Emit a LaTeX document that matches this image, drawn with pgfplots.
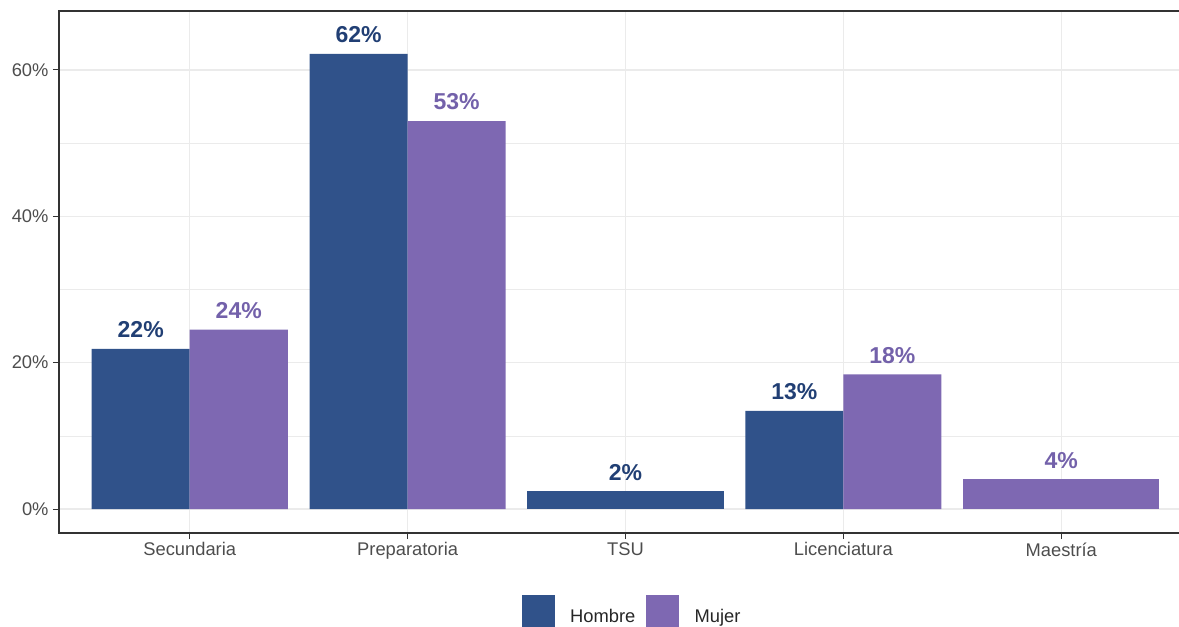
\documentclass[border=0pt]{standalone}
\usepackage{pgfplots}
\pgfplotsset{compat=1.18}
\usepackage{fontspec}
\setmainfont{Liberation Sans}
\definecolor{hbar}{HTML}{30528A}
\definecolor{hlab}{HTML}{213F74}
\definecolor{mbar}{HTML}{7E68B2}
\definecolor{mlab}{HTML}{7361AA}
\definecolor{gridc}{HTML}{EBEBEB}
\definecolor{txt}{HTML}{4D4D4D}
\definecolor{frame}{HTML}{333333}
\begin{document}
\begin{tikzpicture}
\useasboundingbox (0pt,0pt) rectangle (707.4pt,375.6pt);
\clip (0pt,0pt) rectangle (707.4pt,375.6pt);
\begin{axis}[
  at={(35.4pt,55.8pt)}, anchor=south west,
  scale only axis, width=679.8pt, height=313.2pt,
  xmin=0.4, xmax=5.6, ymin=-3.28, ymax=68.06,
  xtick={1,2,3,4,5},
  xticklabels={Secundaria,Preparatoria,TSU,Licenciatura,Maestría},
  ytick={0,20,40,60},
  yticklabels={0\%,20\%,40\%,60\%},
  minor ytick={10,30,50},
  xmajorgrids, ymajorgrids, yminorgrids,
  major grid style={draw=gridc, line width=0.7pt},
  minor grid style={draw=gridc, line width=0.35pt},
  minor tick length=0pt,
  tick align=outside, xtick pos=bottom, ytick pos=left,
  major tick length=3.6pt,
  tick style={draw=frame, line width=0.6pt},
  axis line style={draw=frame, line width=0.7pt},
  ticklabel style={font=\fontsize{11}{13}\selectfont, text=txt},
  xticklabel style={inner sep=1pt, yshift=-1pt},
  yticklabel style={inner sep=2.5pt},
  point meta=explicit symbolic,
  nodes near coords,
  every node near coord/.style={anchor=base, yshift=6.8pt, inner sep=0pt, font=\fontsize{13.8}{16}\selectfont\bfseries},
  legend columns=2,
  legend style={at={(0.5065,-0.151)}, anchor=center, draw=none, fill=none,
    font=\fontsize{11}{13}\selectfont, text=black!85,
    /tikz/every odd column/.append style={column sep=7.2pt},
    /tikz/every even column/.append style={column sep=4.6pt},
    cells={anchor=west}},
  legend image code/.code={\fill[#1] (0pt,-6.3pt) rectangle (19.8pt,13.5pt);},
]
\addplot[ybar, bar width=0.45, bar shift=0pt, fill=hbar, draw=none,
  every node near coord/.append style={text=hlab}]
  coordinates {(0.775,21.9) [22\%] (1.775,62.2) [62\%] (3.775,13.4) [13\%]};
\addlegendentry{Hombre}
\addplot[ybar, bar width=0.45, bar shift=0pt, fill=mbar, draw=none,
  every node near coord/.append style={text=mlab}]
  coordinates {(1.225,24.5) [24\%] (2.225,53.0) [53\%] (4.225,18.4) [18\%]};
\addlegendentry{Mujer}
\addplot[ybar, bar width=0.9, bar shift=0pt, fill=hbar, draw=none, forget plot,
  every node near coord/.append style={text=hlab}]
  coordinates {(3,2.4) [2\%]};
\addplot[ybar, bar width=0.9, bar shift=0pt, fill=mbar, draw=none, forget plot,
  every node near coord/.append style={text=mlab}]
  coordinates {(5,4.05) [4\%]};
\end{axis}
\end{tikzpicture}
\end{document}
